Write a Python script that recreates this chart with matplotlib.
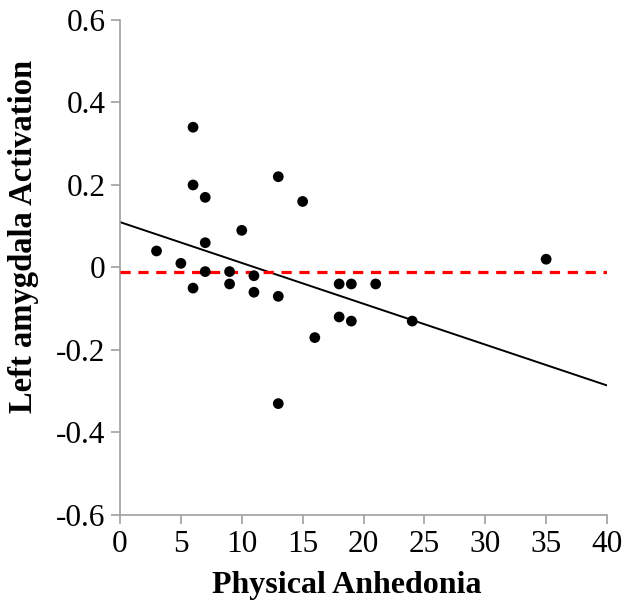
import numpy as np
import matplotlib
matplotlib.use('Agg')
import matplotlib.pyplot as plt

# Datos
anhedonia = [3, 5, 6, 6, 6, 7, 7, 7, 9, 9, 10, 11, 11, 13, 13, 13,
             15, 16, 18, 18, 19, 19, 21, 24, 35]
activacion = [0.04, 0.01, 0.34, 0.20, -0.05, 0.17, 0.06, -0.01, -0.01, -0.04,
              0.09, -0.02, -0.06, 0.22, -0.07, -0.33, 0.16, -0.17, -0.04, -0.12,
              -0.04, -0.13, -0.04, -0.13, 0.02]
linea_ref = -0.01
tend_intercepto = 0.11
tend_pendiente = -0.0099
xticks = [0, 5, 10, 15, 20, 25, 30, 35, 40]
yticks = [-0.6, -0.4, -0.2, 0, 0.2, 0.4, 0.6]

plt.rcParams['font.family'] = ['Liberation Serif', 'DejaVu Serif']

fig = plt.figure(figsize=(6.24, 6.05), dpi=100)
ax = fig.add_axes([0.1923, 0.1488, 0.7805, 0.8182])

xs = np.array([0, 40])
ax.plot(xs, tend_intercepto + tend_pendiente * xs, color='black', linewidth=1.4, zorder=2)
ax.axhline(linea_ref, color='#ff0000', linewidth=2.3, dashes=(3.2, 2.4), zorder=3)
ax.scatter(anhedonia, activacion, s=60, color='black', zorder=4, edgecolors='none')

ax.set_xlim(0, 40)
ax.set_ylim(-0.6, 0.6)
ax.set_xticks(xticks)
ax.set_yticks(yticks)
ax.set_xticklabels([str(t) for t in xticks])
ax.set_yticklabels(['-0.6', '-0.4', '-0.2', '0', '0.2', '0.4', '0.6'])

for s in ['top', 'right']:
    ax.spines[s].set_visible(False)
for s in ['left', 'bottom']:
    ax.spines[s].set_color('#a0a0a0')
    ax.spines[s].set_linewidth(1.2)
ax.tick_params(direction='out', length=6.5, width=1.2, color='#a0a0a0',
               labelsize=22.5, pad=4)

# Titulos de los ejes (posicion como en la figura original)
fig.text(347 / 624, 1 - 585 / 605, 'Physical Anhedonia', fontsize=23,
         fontweight='bold', ha='center', va='center')
fig.text(24 / 624, 1 - 236 / 605, 'Left amygdala Activation', fontsize=23.5,
         fontweight='bold', ha='center', va='center', rotation=90)

fig.savefig('out.png', dpi=100)
